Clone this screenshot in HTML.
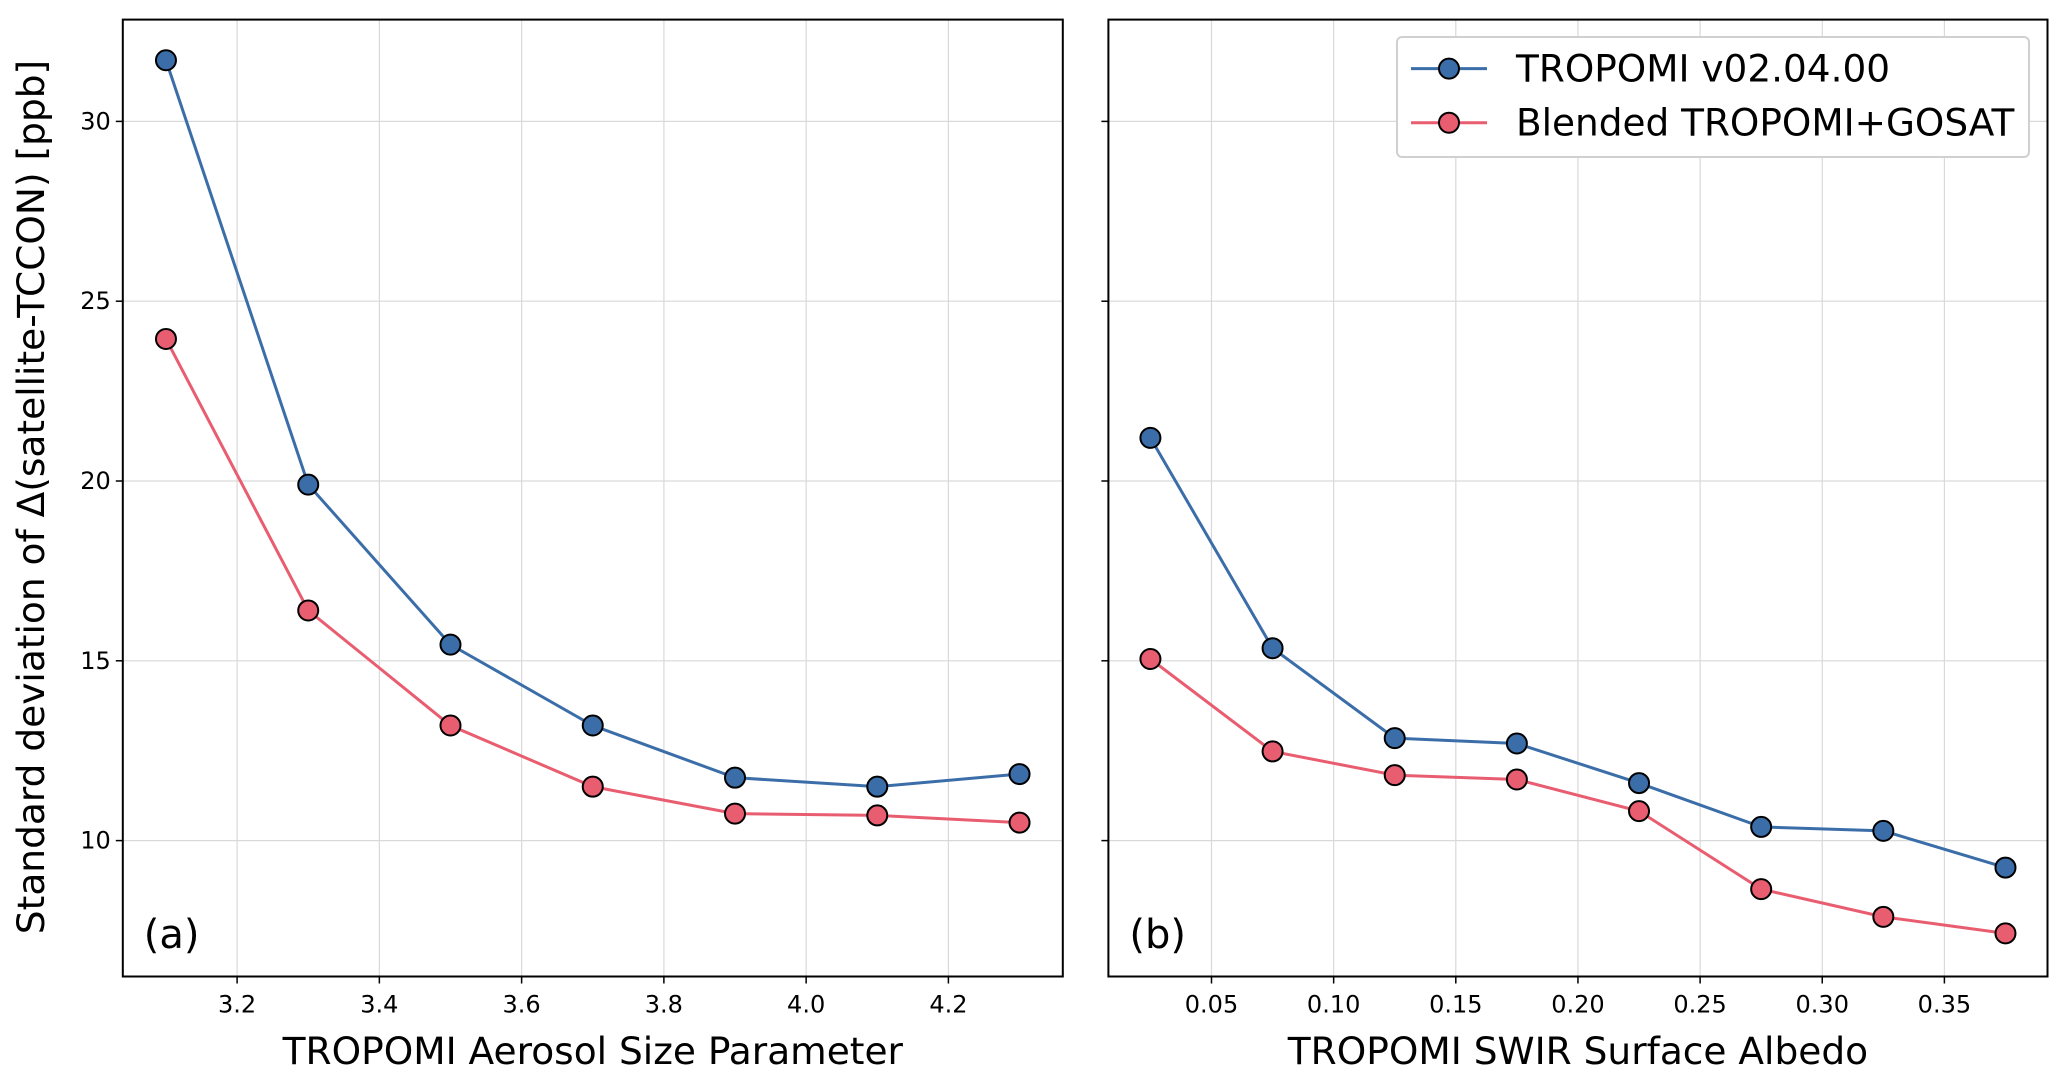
<!DOCTYPE html>
<html><head><meta charset="utf-8"><style>
body{margin:0;background:#fff}
svg text{font-family:"DejaVu Sans","Liberation Sans",sans-serif;fill:#000}
</style></head><body>
<svg id="chart" width="2067" height="1083" xmlns="http://www.w3.org/2000/svg"></svg>
<script>
const xA = [3.1,3.3,3.5,3.7,3.9,4.1,4.3];
const blueA = [31.7,19.9,15.45,13.2,11.75,11.5,11.85];
const redA = [23.95,16.4,13.2,11.5,10.75,10.7,10.5];
const xB = [0.025,0.075,0.125,0.175,0.225,0.275,0.325,0.375];
const blueB = [21.2,15.35,12.85,12.7,11.6,10.38,10.27,9.25];
const redB = [15.05,12.48,11.82,11.7,10.82,8.65,7.88,7.42];
const yTicks = [10,15,20,25,30];
const xTicksA = [3.2,3.4,3.6,3.8,4.0,4.2];
const xTicksALabels = ["3.2","3.4","3.6","3.8","4.0","4.2"];
const xTicksB = [0.05,0.10,0.15,0.20,0.25,0.30,0.35];
const xTicksBLabels = ["0.05","0.10","0.15","0.20","0.25","0.30","0.35"];

const NS="http://www.w3.org/2000/svg";
const svg=document.getElementById('chart');
function mk(tag,attrs,parent){const e=document.createElementNS(NS,tag);for(const k in attrs)e.setAttribute(k,attrs[k]);(parent||svg).appendChild(e);return e;}
const TOP=19.6,BOT=976.5;
const y=v=>840.6-(v-10)*(179.8/5);
const xa=v=>237.1+(v-3.2)*(142.26/0.2);
const xb=v=>1211.5+(v-0.05)*(122.15/0.05);
const BLUE="#3b6ea8",RED="#e95d70";

function panel(name,L,R,xs,xt,xtl,bl,rd,xf,xlabel,tag,showY){
  const g=mk('g',{});
  
  
  yTicks.forEach(t=>{
    const l=mk('line',{x1:L,x2:R,y1:y(t),y2:y(t),stroke:'#d9d9d9','stroke-width':1.2},g);
    
    mk('line',{x1:L-7,x2:L,y1:y(t),y2:y(t),stroke:'#000','stroke-width':1.5},g);
    if(showY){const tx=mk('text',{x:L-12,y:y(t)+8,'text-anchor':'end','font-size':24},g);tx.textContent=t;
      }
  });
  xt.forEach((t,i)=>{
    const l=mk('line',{x1:xf(t),x2:xf(t),y1:TOP,y2:BOT,stroke:'#d9d9d9','stroke-width':1.2},g);
    
    mk('line',{x1:xf(t),x2:xf(t),y1:BOT,y2:BOT+7,stroke:'#000','stroke-width':1.5},g);
    const tx=mk('text',{x:xf(t),y:BOT+36,'text-anchor':'middle','font-size':24},g);tx.textContent=xtl[i];
    
  });
  [[bl,BLUE,'tropomi'],[rd,RED,'blended']].forEach(([d,c,n])=>{
    const p=mk('polyline',{points:xs.map((v,i)=>xf(v)+','+y(d[i])).join(' '),fill:'none',stroke:c,'stroke-width':3},g);
    
    xs.forEach((v,i)=>{const m=mk('circle',{cx:xf(v),cy:y(d[i]),r:10,fill:c,stroke:'#000','stroke-width':2},g);
      });
  });
  const fr=mk('rect',{x:L,y:TOP,width:R-L,height:BOT-TOP,fill:'none',stroke:'#000','stroke-width':2},g);
  
  const xl=mk('text',{x:(L+R)/2,y:1064,'text-anchor':'middle','font-size':37.5},g);xl.textContent=xlabel;
  
  const pl=mk('text',{x:L+21,y:948,'font-size':40},g);pl.textContent=tag;
  
}
panel('panel-a',122.8,1062.8,xA,xTicksA,xTicksALabels,blueA,redA,xa,'TROPOMI Aerosol Size Parameter','(a)',true);
panel('panel-b',1108.4,2047.5,xB,xTicksB,xTicksBLabels,blueB,redB,xb,'TROPOMI SWIR Surface Albedo','(b)',false);

const yl=mk('text',{x:0,y:0,'text-anchor':'middle','font-size':37.5,transform:'translate(44,497) rotate(-90)'});
yl.textContent='Standard deviation of Δ(satellite-TCCON) [ppb]';


const lg=mk('g',{});


mk('rect',{x:1397,y:37,width:632,height:120,rx:5,fill:'#fff',stroke:'#d0d0d0','stroke-width':2},lg);
[[BLUE,'TROPOMI v02.04.00',68.6],[RED,'Blended TROPOMI+GOSAT',122.7]].forEach(([c,t,yy])=>{
  mk('line',{x1:1411,x2:1487,y1:yy,y2:yy,stroke:c,'stroke-width':3},lg);
  mk('circle',{cx:1449,cy:yy,r:10,fill:c,stroke:'#000','stroke-width':2},lg);
  const tx=mk('text',{x:1516,y:yy+13,'font-size':37.4},lg);tx.textContent=t;
  
});
</script>
</body></html>
